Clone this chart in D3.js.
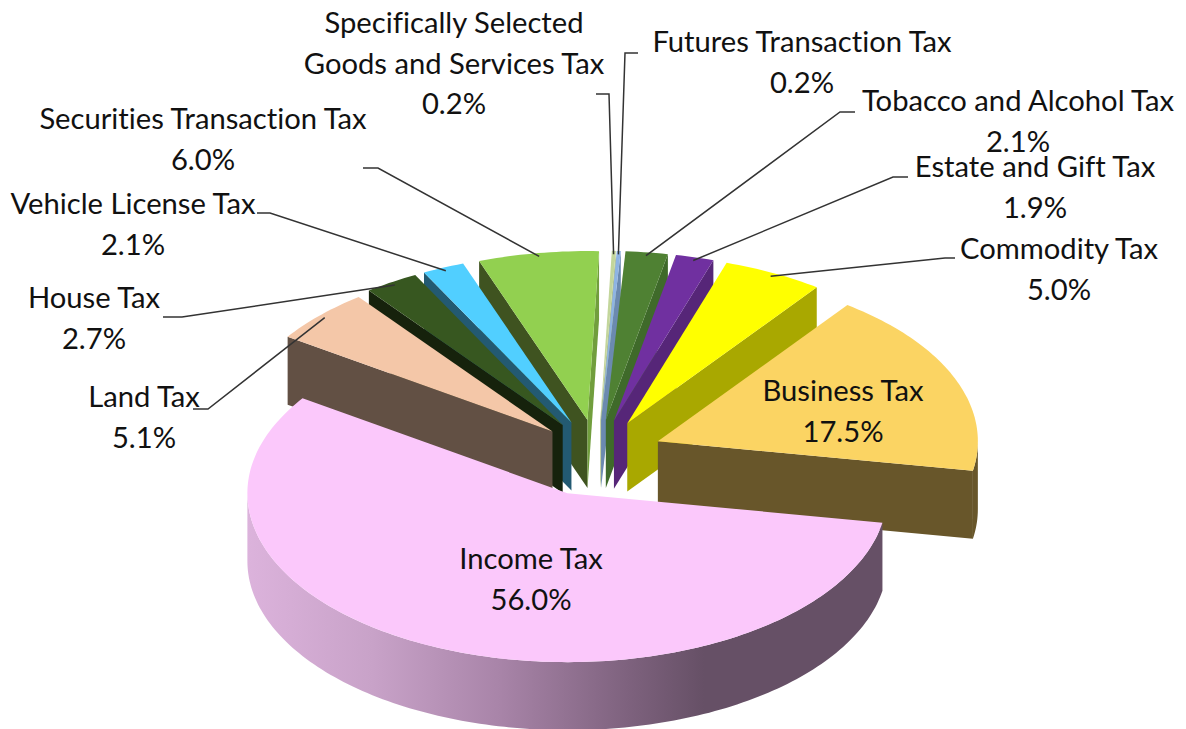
<!DOCTYPE html>
<html>
<head>
<meta charset="utf-8">
<script src="https://cdn.jsdelivr.net/npm/d3@7"></script>
<style>
body { margin: 0; background: #fff; }
text { font-family: Lato, "Open Sans", sans-serif; font-size: 29.2px; fill: #111; text-anchor: middle; font-variant-ligatures: none; }
</style>
</head>
<body>
<svg id="chart" width="1186" height="729"></svg>
<script>
// clockwise from the top of the pie
var categories = ["Futures Transaction Tax", "Tobacco and Alcohol Tax", "Estate and Gift Tax", "Commodity Tax", "Business Tax",
    "Income Tax", "Land Tax", "House Tax", "Vehicle License Tax", "Securities Transaction Tax", "Specifically Selected Goods and Services Tax"]
var shares = [0.2, 2.1, 1.9, 5.0, 17.5, 56.0, 5.1, 2.7, 2.1, 6.0, 0.2]
var shareLabels = ["0.2%", "2.1%", "1.9%", "5.0%", "17.5%", "56.0%", "5.1%", "2.7%", "2.1%", "6.0%", "0.2%"]
var topColors = ["#8eb4e3", "#4f8133", "#7030a0", "#ffff00", "#fbd463", "#fbc8fb", "#f4c7a8", "#375720", "#51cfff", "#92d050", "#c3d69b"]
var wallColors = ["#6b8ab0", "#3f6a2a", "#562678", "#a9a800", "#68562a", "#665066", "#625044", "#16220c", "#235a72", "#3f5320", "#93a374"]

// label layout, same order as categories: text lines, centre x, first baseline, leader elbow
var labelLines = [["Futures Transaction Tax"], ["Tobacco and Alcohol Tax"], ["Estate and Gift Tax"], ["Commodity Tax"], ["Business Tax"],
    ["Income Tax"], ["Land Tax"], ["House Tax"], ["Vehicle License Tax"], ["Securities Transaction Tax"], ["Specifically Selected", "Goods and Services Tax"]]
var labelX = [802, 1018, 1035, 1059, 843, 531, 144, 94, 133, 203, 454]
var labelY = [52, 111, 177, 259, 401, 569, 407, 308, 214, 129, 33]
var elbows = [[[625, 53], [638, 53]], [[840, 112], [855, 112]], [[893, 177], [908, 177]], [[945, 258], [955, 258]], null, null,
    [[208, 409], [193, 409]], [[182, 317], [163, 317]], [[270, 213], [257, 213]], [[378, 168], [363, 168]], [[609, 94], [596, 94]]]

var cx = 597.5, cy = 454        // pie centre before explosion
var rx = 320, ry = 169          // top face ellipse
var explodeBy = [65, 65, 65, 65, 65, 80, 62, 65, 65, 65, 65]
var depth = 68
var startAt = 2.8 * Math.PI / 180

var svg = d3.select("#chart")

var defs = svg.append("defs")
var grad = defs.append("linearGradient")
    .attr("id", "incomeWall")
    .attr("gradientUnits", "userSpaceOnUse")
    .attr("x1", 246).attr("x2", 882).attr("y1", 0).attr("y2", 0)
var gradStops = [[0, "#dcb3dc"], [0.2, "#c8a2c8"], [0.4, "#a884a8"], [0.6, "#7e627e"], [0.72, "#665066"], [1, "#665066"]]
gradStops.forEach(function(s) {
    grad.append("stop").attr("offset", s[0]).attr("stop-color", s[1])
})

var pie = d3.pie().sort(null).startAngle(startAt).endAngle(startAt + 2 * Math.PI)
var slices = pie(shares)

// d3 angle (0 = up, clockwise) to screen position for one slice
var offsetOf = function(d) {
    var mid = (d.startAngle + d.endAngle) / 2
    var e = explodeBy[d.index]
    return [cx + e * Math.sin(mid), cy - e * Math.cos(mid) * ry / rx]
}
var rimPoint = function(d, a, scale) {
    var o = offsetOf(d)
    return [o[0] + rx * scale * Math.sin(a), o[1] - ry * scale * Math.cos(a)]
}
var line = d3.line()

// points along the rim between two angles
var rimPoints = function(d, a0, a1) {
    var n = Math.max(2, Math.ceil(Math.abs(a1 - a0) / 0.02))
    return d3.range(n + 1).map(function(i) {
        return rimPoint(d, a0 + (a1 - a0) * i / n, 1)
    })
}
var down = function(p) { return [p[0], p[1] + depth] }

var drawSlice = function(target, d) {
    var i = d.index
    var apex = offsetOf(d)
    var a0 = d.startAngle, a1 = d.endAngle
    var g = target.append("g").attr("class", "slice")

    // start edge wall, seen on the left half
    if (Math.sin(a0) < 0) {
        var p0 = rimPoint(d, a0, 1)
        g.append("path").attr("d", line([apex, p0, down(p0), down(apex)]) + "Z").attr("fill", wallColors[i])
    }
    // end edge wall, seen on the right half
    if (Math.sin(a1) > 0) {
        var p1 = rimPoint(d, a1, 1)
        // the far left slices catch the light on this side
        var endFill = d.index > 5 ? d3.interpolateRgb(wallColors[i], topColors[i])(0.6) : wallColors[i]
        g.append("path").attr("d", line([apex, p1, down(p1), down(apex)]) + "Z").attr("fill", endFill)
    }
    // outer wall, only the part of the rim that faces us
    var lo = Math.max(a0, Math.PI / 2), hi = Math.min(a1, 3 * Math.PI / 2)
    if (hi > lo) {
        var rim = rimPoints(d, lo, hi)
        var wall = rim.concat(rim.slice().reverse().map(down))
        g.append("path").attr("d", line(wall) + "Z")
            .attr("fill", categories[i] == "Income Tax" ? "url(#incomeWall)" : wallColors[i])
    }
    // top face
    var top = [apex].concat(rimPoints(d, a0, a1))
    g.append("path").attr("d", line(top) + "Z").attr("fill", topColors[i])
}

// far slices first, the near ones cover the walls behind them
var paintOrder = slices.slice().sort(function(a, b) {
    var ma = (a.startAngle + a.endAngle) / 2, mb = (b.startAngle + b.endAngle) / 2
    return Math.cos(mb) - Math.cos(ma)
})
var pieGroup = svg.append("g")
paintOrder.forEach(function(d) { drawSlice(pieGroup, d) })

// leader lines
var leaders = svg.append("g")
slices.forEach(function(d) {
    var bend = elbows[d.index]
    if (!bend) { return }
    var mid = (d.startAngle + d.endAngle) / 2
    var pts = [rimPoint(d, mid, 0.98)].concat(bend)
    leaders.append("path")
        .attr("d", line(pts))
        .attr("fill", "none")
        .attr("stroke", "#333")
        .attr("stroke-width", 1.5)
})

// labels
var labels = svg.append("g")
slices.forEach(function(d) {
    var i = d.index
    var rows = labelLines[i].concat([shareLabels[i]])
    rows.forEach(function(row, r) {
        labels.append("text")
            .attr("x", labelX[i])
            .attr("y", labelY[i] + r * 40.5)
            .text(row)
    })
})
</script>
</body>
</html>
